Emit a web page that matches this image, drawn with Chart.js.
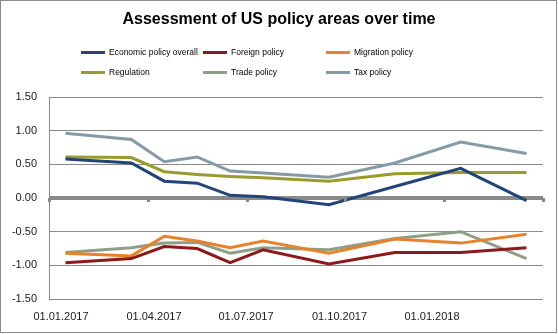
<!DOCTYPE html>
<html>
<head>
<meta charset="utf-8">
<script src="https://cdn.jsdelivr.net/npm/chart.js@4"></script>
<style>
  html, body { margin: 0; padding: 0; background: #fff; }
  #wrap { position: relative; width: 558px; height: 334px; overflow: hidden; }
  #c { position: absolute; left: 0; top: 0; }
  #frame { position: absolute; left: 0; top: 0; width: 555px; height: 331px; border: 1px solid #8a8a8a; pointer-events: none; }
  #title { position: absolute; left: 0; width: 558px; top: 10px; text-align: center;
           font: bold 16px "Liberation Sans", Arial, sans-serif; color: #000; }
  .lg { position: absolute; font: 8.5px "Liberation Sans", Arial, sans-serif; color: #000; white-space: nowrap; line-height: 11px; }
  .sw { position: absolute; width: 24px; height: 3px; }
</style>
</head>
<body>
<div id="wrap">
  <canvas id="c" width="558" height="334"></canvas>
  <div id="title">Assessment of US policy areas over time</div>
  <div id="legend"></div>
  <div id="frame"></div>
</div>
<script>
// Survey months (0 = Jan 2017)
const surveyMonths = [0, 2, 3, 4, 5, 6, 8, 10, 12, 14];

const economicPolicy = [0.58, 0.52, 0.25, 0.22, 0.04, 0.02, -0.10, 0.17, 0.44, -0.04];
const foreignPolicy  = [-0.96, -0.90, -0.72, -0.75, -0.96, -0.77, -0.98, -0.81, -0.81, -0.74];
const migrationPolicy= [-0.82, -0.86, -0.57, -0.64, -0.74, -0.64, -0.82, -0.61, -0.67, -0.54];
const regulation     = [0.61, 0.60, 0.39, 0.35, 0.32, 0.30, 0.25, 0.36, 0.38, 0.38];
const tradePolicy    = [-0.81, -0.74, -0.67, -0.66, -0.82, -0.74, -0.77, -0.60, -0.50, -0.90];
const taxPolicy      = [0.96, 0.87, 0.54, 0.61, 0.40, 0.37, 0.31, 0.52, 0.83, 0.66];

const seriesNames = ["Economic policy overall", "Foreign policy", "Migration policy", "Regulation", "Trade policy", "Tax policy"];
const seriesColors = ["#234479", "#8c1a1a", "#e5822b", "#9b9a2c", "#8d9f89", "#849ba7"];
const seriesValues = [economicPolicy, foreignPolicy, migrationPolicy, regulation, tradePolicy, taxPolicy];

const xTickLabels = ["01.01.2017", "01.04.2017", "01.07.2017", "01.10.2017", "01.01.2018"];
const xTickPositions = [-0.136, 2.688, 5.482, 8.321, 11.13];
const yTicks = [-1.5, -1.0, -0.5, 0, 0.5, 1.0, 1.5];

// Legend (HTML)
const legendPos = [[81, 47], [203, 47], [326, 47], [81, 67], [203, 67], [326, 67]];
const lg = document.getElementById('legend');
seriesNames.forEach((n, i) => {
  const [x, y] = legendPos[i];
  const sw = document.createElement('div');
  sw.className = 'sw';
  sw.style.left = x + 'px'; sw.style.top = (y + 4) + 'px'; sw.style.background = seriesColors[i];
  lg.appendChild(sw);
  const t = document.createElement('div');
  t.className = 'lg';
  t.style.left = (x + 28) + 'px'; t.style.top = y + 'px';
  t.textContent = n;
  lg.appendChild(t);
});

const tickMarks = {
  id: 'tickMarks',
  afterDatasetsDraw(chart) {
    const ctx = chart.ctx, xs = chart.scales.x, ys = chart.scales.y;
    const y0 = ys.getPixelForValue(0);
    ctx.save();
    ctx.fillStyle = '#8a8a8a';
    for (let m = -0.5; m <= 14.5; m += 3) {
      const px = Math.round(xs.getPixelForValue(m));
      ctx.fillRect(px - 1, y0, 3, 4);
    }
    ctx.restore();
  }
};

new Chart(document.getElementById('c'), {
  type: 'line',
  data: {
    datasets: seriesNames.map((n, i) => ({
      label: n,
      data: surveyMonths.map((m, k) => ({ x: m, y: seriesValues[i][k] })),
      borderColor: seriesColors[i],
      backgroundColor: seriesColors[i],
      borderWidth: 3,
      pointRadius: 0,
      tension: 0,
      fill: false
    }))
  },
  options: {
    responsive: false,
    animation: false,
    layout: { padding: { top: 97, right: 15, bottom: 0, left: 0 } },
    plugins: { legend: { display: false }, title: { display: false }, tooltip: { enabled: false } },
    scales: {
      x: {
        type: 'linear',
        min: -0.5, max: 14.5,
        grid: { display: false, drawTicks: false },
        border: { display: false },
        afterBuildTicks: s => { s.ticks = xTickPositions.map(v => ({ value: v })); },
        afterFit: s => { s.height = 35; },
        ticks: {
          autoSkip: false, maxRotation: 0, padding: 11,
          color: '#1a1a1a',
          font: { family: 'Liberation Sans', size: 11 },
          callback: (v, i) => xTickLabels[i]
        }
      },
      y: {
        min: -1.5, max: 1.5,
        afterBuildTicks: s => { s.ticks = yTicks.map(v => ({ value: v })); },
        afterFit: s => { s.width = 49; },
        border: { display: true, color: '#8a8a8a', width: 1 },
        grid: {
          drawTicks: false,
          color: '#8a8a8a',
          lineWidth: c => (c.tick && c.tick.value === 0 ? 4 : 1)
        },
        ticks: {
          padding: 12,
          color: '#1a1a1a',
          font: { family: 'Liberation Sans', size: 11 },
          callback: v => v.toFixed(2)
        }
      }
    }
  },
  plugins: [tickMarks]
});
</script>
</body>
</html>
